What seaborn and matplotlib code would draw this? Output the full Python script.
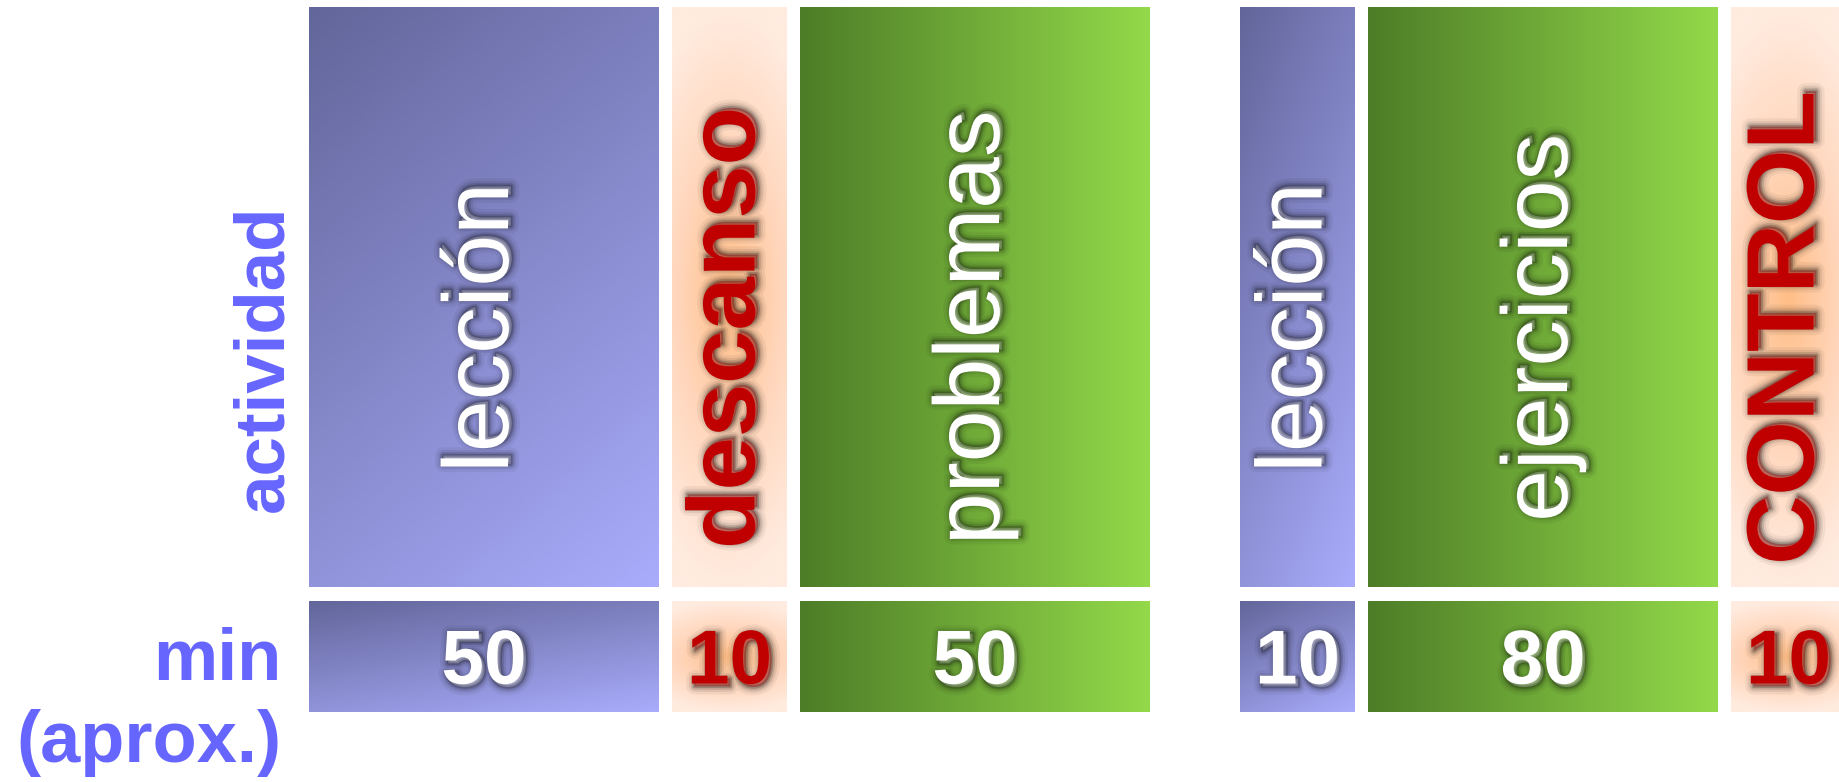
import numpy as np
import matplotlib
matplotlib.use("Agg")
import matplotlib.pyplot as plt
import matplotlib.patheffects as pe
import seaborn as sns

# class plan: two sessions, each with three activities
session = [1, 1, 1, 2, 2, 2]
activity = ["lección", "descanso", "problemas", "lección", "ejercicios", "CONTROL"]
kind = ["lesson", "break", "practice", "lesson", "practice", "exam"]
minutes = [50, 10, 50, 10, 80, 10]
row_labels = ["actividad", "min", "(aprox.)"]

sns.set_theme(style="white")
plt.rcParams["font.family"] = ["Liberation Sans", "DejaVu Sans"]

W, H = 1840, 782
fig = plt.figure(figsize=(W / 100, H / 100), dpi=100)
ax = fig.add_axes([0, 0, 1, 1])
ax.set_xlim(0, W)
ax.set_ylim(H, 0)
ax.set_axis_off()

# layout (pixels)
X_START = 309
BIG, SMALL = 350, 115
GAP, SESSION_GAP = 13, 90
TOP_ROW = (7, 587)
BOT_ROW = (601, 712)
LABEL_COLOR = "#6666ff"
RED = "#c00000"

cmaps = {
    "lesson": sns.blend_palette(["#63669a", "#a9acfb"], n_colors=256, as_cmap=True),
    "practice": sns.blend_palette(["#4d7d27", "#93d94a"], n_colors=256, as_cmap=True),
    "break": sns.blend_palette(["#ffbe87", "#ffd6bb", "#ffebdf"], n_colors=256, as_cmap=True),
}
cmaps["exam"] = cmaps["break"]


def gradient(k, w, h, n=160):
    u, v = np.meshgrid(np.linspace(0, 1, n), np.linspace(0, 1, n))
    if k == "lesson":
        t = 0.35 * u + 0.65 * v
    elif k == "practice":
        t = u
    else:
        dx = (u - 0.5) * w / (0.9 * w)
        dy = (v - 0.5) * h / (0.5 * h)
        t = np.clip(np.hypot(dx, dy), 0, 1)
    return cmaps[k](t)


def shadow(offset):
    return [pe.Stroke(linewidth=lw, foreground="black", alpha=a, offset=offset)
            for lw, a in [(12, 0.05), (8, 0.08), (5, 0.13), (2.5, 0.2)]] + [pe.Normal()]


x = X_START
for i, (act, k, m) in enumerate(zip(activity, kind, minutes)):
    if i > 0:
        x += SESSION_GAP if session[i] != session[i - 1] else GAP
    w = BIG if m >= 50 else SMALL
    for (y0, y1) in (TOP_ROW, BOT_ROW):
        ax.imshow(gradient(k, w, y1 - y0), extent=(x, x + w, y1, y0), aspect="auto",
                  interpolation="bilinear", zorder=1)
    red = k in ("break", "exam")
    color = RED if red else "white"
    ax.text(x + w / 2, 328, act, rotation=90, rotation_mode="anchor",
            ha="center", va="center", fontsize=69 if red else 67, color=color,
            fontweight="bold" if red else "normal", path_effects=shadow((2, 2)), zorder=3)
    ax.text(x + w / 2, sum(BOT_ROW) / 2 + 27, str(m), ha="center", va="baseline",
            fontsize=55, color=color, fontweight="bold", path_effects=shadow((2, -2)),
            zorder=3)
    x += w

ax.text(282, 358, row_labels[0], rotation=90, rotation_mode="anchor", ha="center",
        va="baseline", fontsize=51, fontweight="bold", color=LABEL_COLOR)
ax.text(282, 680, row_labels[1], ha="right", va="baseline", fontsize=52,
        fontweight="bold", color=LABEL_COLOR)
ax.text(282, 762, row_labels[2], ha="right", va="baseline", fontsize=52,
        fontweight="bold", color=LABEL_COLOR)

fig.savefig("out.png", dpi=100)
